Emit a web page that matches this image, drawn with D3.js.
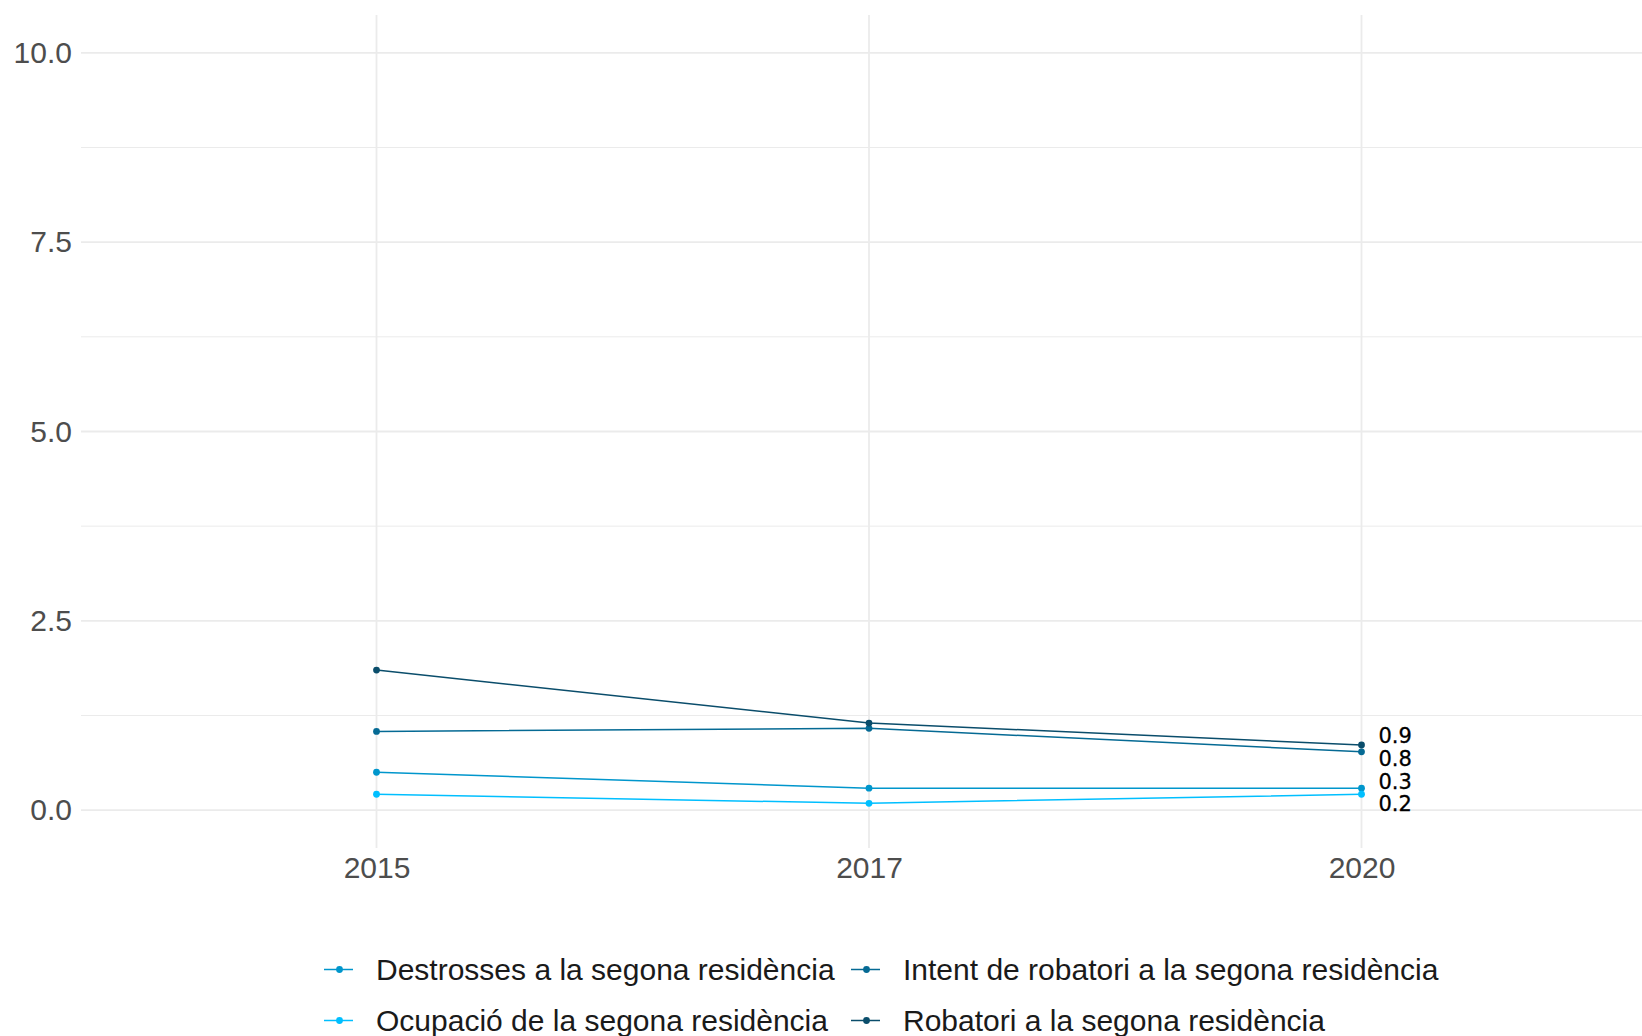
<!DOCTYPE html>
<html>
<head>
<meta charset="utf-8">
<script src="https://cdn.jsdelivr.net/npm/d3@7"></script>
<style>
  html, body { margin: 0; padding: 0; background: #fff; }
  svg { display: block; }
</style>
</head>
<body>
<svg id="chart" width="1642" height="1036"></svg>
<script>
// data
var years = ["2015", "2017", "2020"];
var seriesNames = [
  "Destrosses a la segona residència",
  "Intent de robatori a la segona residència",
  "Ocupació de la segona residència",
  "Robatori a la segona residència"
];
var seriesColors = ["#0096cc", "#056a94", "#00bfff", "#0a4d6b"];
var destrosses = [0.50, 0.29, 0.29];
var intentRobatori = [1.04, 1.08, 0.77];
var ocupacio = [0.21, 0.09, 0.21];
var robatori = [1.85, 1.15, 0.86];
var yTicks = [0, 2.5, 5, 7.5, 10];
var yMinor = [1.25, 3.75, 6.25, 8.75];

var allValues = [destrosses, intentRobatori, ocupacio, robatori];
var series = seriesNames.map(function(name, i) {
  return { name: name, color: seriesColors[i], values: allValues[i] };
});

var svg = d3.select("#chart");
var panel = { left: 81, right: 1657, top: 15, bottom: 848 };

var x = d3.scalePoint()
    .domain(years)
    .range([panel.left, panel.right])
    .padding(0.6);

var y = d3.scaleLinear()
    .domain([-0.5, 10.5])
    .range([panel.bottom, panel.top]);

// grid
var grid = svg.append("g");
grid.selectAll("line.minor")
    .data(yMinor)
  .enter().append("line")
    .attr("x1", panel.left).attr("x2", panel.right)
    .attr("y1", function(d) { return y(d); })
    .attr("y2", function(d) { return y(d); })
    .attr("stroke", "#ebebeb").attr("stroke-width", 1);
grid.selectAll("line.hmajor")
    .data(yTicks)
  .enter().append("line")
    .attr("x1", panel.left).attr("x2", panel.right)
    .attr("y1", function(d) { return y(d); })
    .attr("y2", function(d) { return y(d); })
    .attr("stroke", "#ebebeb").attr("stroke-width", 1.8);
grid.selectAll("line.vmajor")
    .data(years)
  .enter().append("line")
    .attr("x1", function(d) { return x(d); })
    .attr("x2", function(d) { return x(d); })
    .attr("y1", panel.top).attr("y2", panel.bottom)
    .attr("stroke", "#ebebeb").attr("stroke-width", 1.8);

// axes
var yAxis = d3.axisLeft(y).tickValues(yTicks).tickSize(0).tickPadding(9)
    .tickFormat(d3.format(".1f"));
var gy = svg.append("g").attr("transform", "translate(" + panel.left + ",0)").call(yAxis);
gy.select(".domain").remove();
gy.selectAll("text")
    .attr("font-family", "Liberation Sans, Arial, sans-serif")
    .attr("font-size", 30).attr("fill", "#4d4d4d");

var xAxis = d3.axisBottom(x).tickSize(0).tickPadding(9);
var gx = svg.append("g").attr("transform", "translate(0," + panel.bottom + ")").call(xAxis);
gx.select(".domain").remove();
gx.selectAll("text")
    .attr("font-family", "Liberation Sans, Arial, sans-serif")
    .attr("font-size", 30).attr("fill", "#4d4d4d");

// lines and points
var line = d3.line()
    .x(function(d, i) { return x(years[i]); })
    .y(function(d) { return y(d); });

var sg = svg.selectAll("g.series")
    .data(series)
  .enter().append("g").attr("class", "series");

sg.append("path")
    .attr("d", function(d) { return line(d.values); })
    .attr("fill", "none")
    .attr("stroke", function(d) { return d.color; })
    .attr("stroke-width", 1.5);

sg.selectAll("circle")
    .data(function(d) { return d.values.map(function(v, i) { return { v: v, i: i, color: d.color }; }); })
  .enter().append("circle")
    .attr("cx", function(d) { return x(years[d.i]); })
    .attr("cy", function(d) { return y(d.v); })
    .attr("r", 3.4)
    .attr("fill", function(d) { return d.color; });

// end labels, pushed apart so they don't overlap
var last = years.length - 1;
var labels = series.map(function(s) {
  return { v: s.values[last], y: y(s.values[last]) };
}).sort(function(a, b) { return a.y - b.y; });
var gap = 22.7;
for (var iter = 0; iter < 200; iter++) {
  for (var k = 0; k < labels.length - 1; k++) {
    var d = labels[k + 1].y - labels[k].y;
    if (d < gap) {
      var push = (gap - d) / 2;
      labels[k].y -= push;
      labels[k + 1].y += push;
    }
  }
}
svg.append("g").selectAll("text")
    .data(labels)
  .enter().append("text")
    .attr("x", x(years[last]) + 17)
    .attr("y", function(d) { return d.y; })
    .attr("dy", "0.36em")
    .attr("font-family", "DejaVu Sans, sans-serif")
    .attr("font-size", 21)
    .attr("fill", "#000")
    .attr("stroke", "#000").attr("stroke-width", 0.3)
    .text(function(d) { return d3.format(".1f")(d.v); });

// legend
var legendOrder = [0, 1, 2, 3];
var colX = [324, 851];
var rowY = [969.5, 1020.5];
var legend = svg.append("g").selectAll("g")
    .data(legendOrder)
  .enter().append("g")
    .attr("transform", function(d, i) {
      return "translate(" + colX[i % 2] + "," + rowY[Math.floor(i / 2)] + ")";
    });
legend.append("line")
    .attr("x1", 0).attr("x2", 29)
    .attr("stroke", function(d) { return series[d].color; })
    .attr("stroke-width", 1.5);
legend.append("circle")
    .attr("cx", 15.5).attr("r", 3.4)
    .attr("fill", function(d) { return series[d].color; });
legend.append("text")
    .attr("x", 52)
    .attr("dy", "0.36em")
    .attr("font-family", "Liberation Sans, Arial, sans-serif")
    .attr("font-size", 30)
    .attr("fill", "#1a1a1a")
    .text(function(d) { return series[d].name; });
</script>
</body>
</html>
